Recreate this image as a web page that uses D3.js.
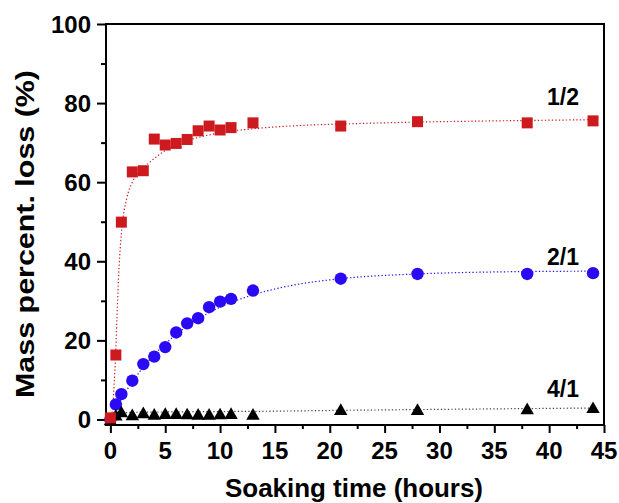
<!DOCTYPE html>
<html><head><meta charset="utf-8">
<script src="https://cdn.jsdelivr.net/npm/d3@7"></script>
<style>body{margin:0;background:#fff}svg{display:block}text{font-family:"Liberation Sans",Arial,sans-serif;font-weight:bold;fill:#000}</style>
</head><body><svg id="c" width="619" height="503"></svg>
<script>
// ---- data ----
const timeX   = [0, 0.5, 1, 2, 3, 4, 5, 6, 7, 8, 9, 10, 11, 13, 21, 28, 38, 44];
const ratio12 = [0.4, 16.3, 49.9, 62.6, 62.9, 70.9, 69.4, 69.8, 70.8, 73.0, 74.2, 73.2, 73.8, 75.0, 74.2, 75.3, 75.0, 75.5];
const ratio21 = [0, 3.8, 6.4, 9.8, 14.0, 15.9, 18.3, 22.0, 24.3, 25.6, 28.4, 29.8, 30.5, 32.6, 35.6, 36.8, 36.8, 37.0];
const ratio41 = [0, 1.2, 2.0, 1.3, 1.8, 1.4, 1.6, 1.6, 1.5, 1.4, 1.4, 1.5, 1.6, 1.4, 2.6, 2.6, 2.8, 3.1];
// fitted (dotted) curves, knots
const fit12X = [0, 0.2, 0.4, 0.5, 0.6, 0.8, 1, 1.5, 2, 3, 4, 5, 6, 8, 10, 13, 17, 21, 28, 35, 44];
const fit12Y = [0, 3, 12, 18, 26, 39, 47, 56, 60, 63.5, 66, 68, 69.5, 71.3, 72.5, 73.5, 74.3, 74.7, 75.2, 75.5, 75.8];
const fit21X = [0, 1, 2, 3, 4, 5, 6, 7, 8, 10, 13, 16, 21, 28, 35, 44];
const fit21Y = [0, 5.2, 9.5, 13.2, 16.4, 19.1, 21.5, 23.6, 25.4, 28.4, 31.5, 33.6, 35.6, 36.8, 37.3, 37.5];
const fit41X = [0, 0.5, 1, 2, 5, 10, 13, 21, 28, 38, 44];
const fit41Y = [0, 1.2, 1.6, 1.8, 1.9, 2.0, 2.05, 2.3, 2.5, 2.75, 2.9];
const xTicks = [0, 5, 10, 15, 20, 25, 30, 35, 40, 45];
const yTicks = [0, 20, 40, 60, 80, 100];
const seriesLabels = ["1/2", "2/1", "4/1"];
const xTitle = "Soaking time (hours)";
const yTitle = "Mass percent. loss (%)";

const svg = d3.select("#c");
const L = 106, R = 604, T = 24, B = 425;
const x = d3.scaleLinear().domain([-0.4, 45]).range([L, R]);
const y = d3.scaleLinear().domain([-1.4, 100]).range([B, T]);

const red = "#cc1a1f", blue = "#2a0af2";

// fit curves
function fit(xs, ys, col) {
  const line = d3.line().x(d => x(d[0])).y(d => y(d[1])).curve(d3.curveMonotoneX);
  svg.append("path").attr("d", line(xs.map((v, i) => [v, ys[i]])))
    .attr("fill", "none").attr("stroke", col).attr("stroke-width", 1.2)
    .attr("stroke-dasharray", "1.3,2.2");
}
fit(fit12X, fit12Y, red);
fit(fit21X, fit21Y, blue);
fit(fit41X, fit41Y, "#444");

// axes
const gx = svg.append("g").attr("transform", `translate(0,${B})`);
gx.call(d3.axisBottom(x).tickValues(d3.range(0, 45.1, 2.5)).tickSize(4).tickFormat(""));
gx.call(g => g.selectAll(".tick").filter(d => d % 5 === 0).select("line").attr("y2", 8));
const gy = svg.append("g").attr("transform", `translate(${L},0)`);
gy.call(d3.axisLeft(y).tickValues(d3.range(0, 100.1, 10)).tickSize(5).tickFormat(""));
gy.call(g => g.selectAll(".tick").filter(d => d % 20 === 0).select("line").attr("x2", -9));
svg.selectAll(".domain").remove();
svg.selectAll(".tick line").attr("stroke", "#000").attr("stroke-width", 2);

// frame
svg.append("rect").attr("x", L).attr("y", T).attr("width", R - L).attr("height", B - T)
  .attr("fill", "none").attr("stroke", "#000").attr("stroke-width", 2);

// tick labels
svg.append("g").selectAll("text").data(xTicks).join("text")
  .attr("x", d => x(d)).attr("y", 459).attr("text-anchor", "middle")
  .attr("font-size", 24).text(d => d);
svg.append("g").selectAll("text").data(yTicks).join("text")
  .attr("x", 91).attr("y", d => y(d)).attr("dy", "0.36em").attr("text-anchor", "end")
  .attr("font-size", 24).text(d => d);

// titles
svg.append("text").attr("x", 354).attr("y", 497).attr("text-anchor", "middle")
  .attr("font-size", 25).attr("textLength", 258).attr("lengthAdjust", "spacingAndGlyphs").text(xTitle);
svg.append("text").attr("transform", "translate(34,234) rotate(-90)").attr("text-anchor", "middle")
  .attr("font-size", 26).attr("textLength", 328).attr("lengthAdjust", "spacingAndGlyphs").text(yTitle);

// markers
const tri = { draw(ctx, size) { const s = Math.sqrt(size * 4 / Math.sqrt(3)); const h = s * Math.sqrt(3) / 2;
  ctx.moveTo(0, -h / 2); ctx.lineTo(s / 2, h / 2); ctx.lineTo(-s / 2, h / 2); ctx.closePath(); } };

svg.append("g").selectAll("circle").data(timeX).join("circle")
  .attr("cx", d => x(d)).attr("cy", (d, i) => y(ratio21[i])).attr("r", 6.2).attr("fill", blue);
svg.append("g").selectAll("path").data(timeX).join("path")
  .attr("d", d3.symbol().type(tri).size(78))
  .attr("transform", (d, i) => `translate(${x(d)},${y(ratio41[i])})`).attr("fill", "#000");
svg.append("g").selectAll("rect").data(timeX).join("rect")
  .attr("x", d => x(d) - 5.5).attr("y", (d, i) => y(ratio12[i]) - 5.5)
  .attr("width", 11).attr("height", 11).attr("fill", red);

// series labels
const labY = [97, 257, 389];
svg.append("g").selectAll("text").data(seriesLabels).join("text")
  .attr("x", 563).attr("y", (d, i) => labY[i]).attr("dy", "0.36em").attr("text-anchor", "middle")
  .attr("font-size", 23).text(d => d);
</script></body></html>
